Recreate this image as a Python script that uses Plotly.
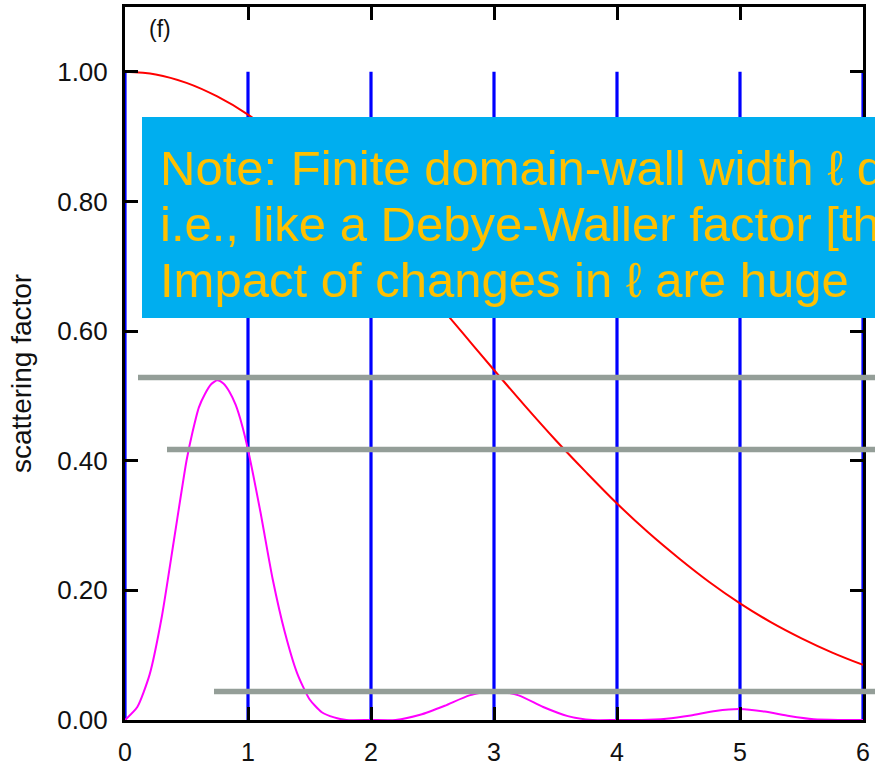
import plotly.graph_objects as go

# ---- data ----
red_x = [0, 0.25, 0.5, 0.75, 1.0, 1.25, 1.5, 1.75, 2.0, 2.25, 2.5, 2.75, 3.0, 3.25, 3.5, 3.75,
         4.0, 4.25, 4.5, 4.75, 5.0, 5.25, 5.5, 5.75, 6.0]
red_y = [1.000, 0.996, 0.983, 0.962, 0.934, 0.898, 0.857, 0.811, 0.760, 0.707, 0.652, 0.596, 0.540,
         0.485, 0.432, 0.382, 0.334, 0.290, 0.250, 0.213, 0.180, 0.151, 0.126, 0.104, 0.085]

mag_x = [0, 0.1, 0.2, 0.3, 0.4, 0.5, 0.55, 0.6, 0.65, 0.7, 0.75, 0.8, 0.85, 0.9, 0.95, 1.0, 1.1, 1.2,
         1.3, 1.4, 1.5, 1.6, 1.7, 1.8, 2.0, 2.2, 2.4, 2.6, 2.8, 3.0, 3.2, 3.4, 3.6, 3.8, 4.0, 4.2,
         4.4, 4.6, 4.8, 5.0, 5.2, 5.4, 5.6, 5.8, 6.0]
mag_y = [0, 0.02, 0.07, 0.16, 0.28, 0.40, 0.445, 0.482, 0.503, 0.518, 0.524, 0.519, 0.506, 0.486, 0.456,
         0.417, 0.322, 0.218, 0.135, 0.072, 0.032, 0.012, 0.004, 0.0, 0.0, 0.0, 0.008, 0.022, 0.038,
         0.045, 0.038, 0.020, 0.006, 0.0, 0.0, 0.0, 0.002, 0.007, 0.014, 0.017, 0.013, 0.006, 0.001,
         0.0, 0.0]

peak_x = [0, 1, 2, 3, 4, 5, 6]
peak_h = [1.0, 1.0, 1.0, 1.0, 1.0, 1.0, 1.0]

x_ticks = [0, 1, 2, 3, 4, 5, 6]
y_ticks = [0.0, 0.2, 0.4, 0.6, 0.8, 1.0]

note_lines = ["Note: Finite domain-wall width \u2113 d",
              "i.e., like a Debye-Waller factor [the",
              "Impact of changes in \u2113 are huge"]
panel_label = "(f)"
y_title = "scattering factor"

# ---- layout geometry (pixels) ----
W, H = 875, 771
L, R, T, B = 125, 863, 7, 720


def px(x):
    return (x - L) / (R - L)


def py(y):
    return (B - y) / (B - T)


fig = go.Figure()

# blue delta peaks
bx, by = [], []
for xv, hv in zip(peak_x, peak_h):
    bx += [xv, xv, None]
    by += [0, hv, None]
fig.add_trace(go.Scatter(x=bx, y=by, mode="lines",
                         line=dict(color="#0000ff", width=3.2), hoverinfo="skip"))

fig.add_trace(go.Scatter(x=red_x, y=red_y, mode="lines",
                         line=dict(color="#ff0000", width=2, shape="spline", smoothing=1.0)))
fig.add_trace(go.Scatter(x=mag_x, y=mag_y, mode="lines",
                         line=dict(color="#ff00ff", width=2, shape="spline", smoothing=0.6)))

font_family = "Liberation Sans, Arial, sans-serif"

fig.update_layout(
    width=W, height=H,
    margin=dict(l=L, r=W - R, t=T, b=H - B, pad=0, autoexpand=False),
    paper_bgcolor="white", plot_bgcolor="white",
    showlegend=False,
    font=dict(family=font_family, color="black"),
)

fig.update_xaxes(range=[0, 6], tickvals=x_ticks, ticktext=[str(v) for v in x_ticks],
                 ticks="inside", ticklen=13, tickwidth=2.5, tickcolor="black",
                 showline=True, linewidth=3, linecolor="black", mirror="ticks",
                 showgrid=False, zeroline=False, automargin=False,
                 tickfont=dict(size=25, family=font_family, color="#111"),
                 ticklabelstandoff=8)
fig.update_yaxes(range=[0, 1.1], tickvals=y_ticks, ticktext=[f"{v:.2f}" for v in y_ticks],
                 ticks="inside", ticklen=13, tickwidth=2.5, tickcolor="black",
                 showline=True, linewidth=3, linecolor="black", mirror="ticks",
                 showgrid=False, zeroline=False, automargin=False,
                 tickfont=dict(size=26, family=font_family, color="#111"),
                 ticklabelstandoff=9)

shapes = []
# cyan note box
shapes.append(dict(type="rect", xref="paper", yref="paper",
                   x0=px(142), x1=px(890), y0=py(318), y1=py(117),
                   fillcolor="#00aeef", line=dict(width=0), layer="above"))
# grey horizontal marker lines
gray = "#949e98"
for x_start, y_pix in [(138, 377.5), (167, 449.5), (214, 691.5)]:
    shapes.append(dict(type="line", xref="paper", yref="paper",
                       x0=px(x_start), x1=px(890), y0=py(y_pix), y1=py(y_pix),
                       line=dict(color=gray, width=5.5), layer="above"))
fig.update_layout(shapes=shapes)

annotations = []
for line_txt, yc in zip(note_lines, [168, 224, 280]):
    annotations.append(dict(text=line_txt, xref="paper", yref="paper",
                            x=px(158), y=py(yc), xanchor="left", yanchor="middle",
                            showarrow=False,
                            font=dict(size=49, color="#ffc000", family=font_family)))
annotations.append(dict(text=panel_label, xref="paper", yref="paper",
                        x=px(160), y=py(29), xanchor="center", yanchor="middle",
                        showarrow=False, font=dict(size=23, color="#111", family=font_family)))
annotations.append(dict(text=y_title, xref="paper", yref="paper",
                        x=px(22), y=py(373), xanchor="center", yanchor="middle",
                        textangle=-90, showarrow=False,
                        font=dict(size=28, color="#111", family=font_family)))
fig.update_layout(annotations=annotations)

fig.write_html("out.html")
